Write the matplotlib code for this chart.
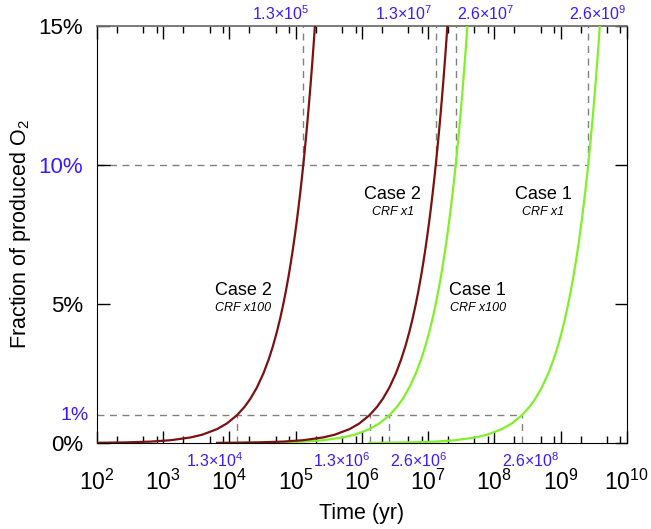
import matplotlib
matplotlib.use("Agg")
import matplotlib.pyplot as plt
from matplotlib.ticker import FixedLocator, NullFormatter

# Fraction of produced O2 (%) sampled along each curve
frac = [0.005, 0.01, 0.02, 0.05, 0.1, 0.2, 0.3, 0.5, 0.7, 1.0, 1.3, 1.6, 2.0, 2.5,
        3.0, 3.5, 4.0, 4.5, 5.0, 5.5, 6.0, 6.5, 7.0, 7.5, 8.0, 8.5, 9.0, 9.5, 10.0,
        10.5, 11.0, 11.5, 12.0, 12.5, 13.0, 13.5, 14.0, 14.5, 15.0, 15.5]
# Times (yr) at which each curve reaches those fractions
t_case2_x100 = [65, 130, 260, 650, 1.3e3, 2.6e3, 3.9e3, 6.5e3, 9.1e3, 1.3e4, 1.69e4, 2.08e4,
                2.6e4, 3.25e4, 3.9e4, 4.55e4, 5.2e4, 5.85e4, 6.5e4, 7.15e4, 7.8e4, 8.45e4,
                9.1e4, 9.75e4, 1.04e5, 1.105e5, 1.17e5, 1.235e5, 1.3e5, 1.365e5, 1.43e5,
                1.495e5, 1.56e5, 1.625e5, 1.69e5, 1.755e5, 1.82e5, 1.885e5, 1.95e5, 2.015e5]
t_case2_x1 = [6.5e3, 1.3e4, 2.6e4, 6.5e4, 1.3e5, 2.6e5, 3.9e5, 6.5e5, 9.1e5, 1.3e6, 1.69e6, 2.08e6,
              2.6e6, 3.25e6, 3.9e6, 4.55e6, 5.2e6, 5.85e6, 6.5e6, 7.15e6, 7.8e6, 8.45e6,
              9.1e6, 9.75e6, 1.04e7, 1.105e7, 1.17e7, 1.235e7, 1.3e7, 1.365e7, 1.43e7,
              1.495e7, 1.56e7, 1.625e7, 1.69e7, 1.755e7, 1.82e7, 1.885e7, 1.95e7, 2.015e7]
t_case1_x100 = [1.3e4, 2.6e4, 5.2e4, 1.3e5, 2.6e5, 5.2e5, 7.8e5, 1.3e6, 1.82e6, 2.6e6, 3.38e6, 4.16e6,
                5.2e6, 6.5e6, 7.8e6, 9.1e6, 1.04e7, 1.17e7, 1.3e7, 1.43e7, 1.56e7, 1.69e7,
                1.82e7, 1.95e7, 2.08e7, 2.21e7, 2.34e7, 2.47e7, 2.6e7, 2.73e7, 2.86e7,
                2.99e7, 3.12e7, 3.25e7, 3.38e7, 3.51e7, 3.64e7, 3.77e7, 3.9e7, 4.03e7]
t_case1_x1 = [1.3e6, 2.6e6, 5.2e6, 1.3e7, 2.6e7, 5.2e7, 7.8e7, 1.3e8, 1.82e8, 2.6e8, 3.38e8, 4.16e8,
              5.2e8, 6.5e8, 7.8e8, 9.1e8, 1.04e9, 1.17e9, 1.3e9, 1.43e9, 1.56e9, 1.69e9,
              1.82e9, 1.95e9, 2.08e9, 2.21e9, 2.34e9, 2.47e9, 2.6e9, 2.73e9, 2.86e9,
              2.99e9, 3.12e9, 3.25e9, 3.38e9, 3.51e9, 3.64e9, 3.77e9, 3.9e9, 4.03e9]

t_1pct = [1.3e4, 1.3e6, 2.6e6, 2.6e8]
lbl_1pct = ["1.3×10$^{4}$", "1.3×10$^{6}$", "2.6×10$^{6}$", "2.6×10$^{8}$"]
t_10pct = [1.3e5, 1.3e7, 2.6e7, 2.6e9]
lbl_10pct = ["1.3×10$^{5}$", "1.3×10$^{7}$", "2.6×10$^{7}$", "2.6×10$^{9}$"]

xtick_vals = [1e2, 1e3, 1e4, 1e5, 1e6, 1e7, 1e8, 1e9, 1e10]
xtick_lbls = ["10$^{2}$", "10$^{3}$", "10$^{4}$", "10$^{5}$", "10$^{6}$", "10$^{7}$",
              "10$^{8}$", "10$^{9}$", "10$^{10}$"]
ytick_vals = [0, 5, 10, 15]
ytick_lbls = ["0%", "5%", "10%", "15%"]

RED = "#7a1212"
GREEN = "#80f02a"
BLUE = "#3a1aff"
GRAY = "#808080"

plt.rcParams['font.family'] = ['Liberation Sans', 'DejaVu Sans']
plt.rcParams['mathtext.fontset'] = 'custom'
plt.rcParams['mathtext.rm'] = 'Liberation Sans'

fig = plt.figure(figsize=(6.51, 5.29), dpi=100)
ax = fig.add_axes([0.149, 0.1626, 0.814, 0.7883])
ax.set_xscale('log')
ax.set_xlim(1e2, 1e10)
ax.set_ylim(0, 15)

# dashed guide lines
ax.plot([1e2, 2.6e8], [1, 1], ls=(0, (5, 4)), color=GRAY, lw=1, zorder=1)
ax.plot([1e2, 2.6e9], [10, 10], ls=(0, (5, 4)), color=GRAY, lw=1, zorder=1)
for t in t_1pct:
    ax.plot([t, t], [0, 1], ls=(0, (5, 4)), color=GRAY, lw=1, zorder=1)
for t in t_10pct:
    ax.plot([t, t], [10, 15], ls=(0, (5, 4)), color=GRAY, lw=1, zorder=1)

ax.plot(t_case1_x1, frac, color=GREEN, lw=1.6, zorder=3)
ax.plot(t_case1_x100, frac, color=GREEN, lw=1.6, zorder=3)
ax.plot(t_case2_x1, frac, color=RED, lw=1.6, zorder=4)
ax.plot(t_case2_x100, frac, color=RED, lw=1.6, zorder=4)

# labels for crossing times (horizontal offsets in points relative to the line)
off_1pct = [-16, -20, 21, 6.5]
off_10pct = [-16, -23, 21.5, 7]
for t, s, o in zip(t_1pct, lbl_1pct, off_1pct):
    ax.annotate(s, (t, 0), xytext=(o, -6), textcoords='offset points',
                color=BLUE, fontsize=11.5, ha='center', va='top')
for t, s, o in zip(t_10pct, lbl_10pct, off_10pct):
    ax.annotate(s, (t, 15), xytext=(o, 2), textcoords='offset points',
                color=BLUE, fontsize=11.5, ha='center', va='bottom')

# case annotations
ax.text(1.6e4, 5.5, "Case 2", fontsize=13, ha='center', va='center')
ax.text(1.6e4, 4.85, "CRF x100", fontsize=9, style='italic', ha='center', va='center')
ax.text(2.9e6, 8.95, "Case 2", fontsize=13, ha='center', va='center')
ax.text(2.9e6, 8.3, "CRF x1", fontsize=9, style='italic', ha='center', va='center')
ax.text(5.6e7, 5.5, "Case 1", fontsize=13, ha='center', va='center')
ax.text(5.6e7, 4.85, "CRF x100", fontsize=9, style='italic', ha='center', va='center')
ax.text(5.4e8, 8.95, "Case 1", fontsize=13, ha='center', va='center')
ax.text(5.4e8, 8.3, "CRF x1", fontsize=9, style='italic', ha='center', va='center')

# ticks
ax.xaxis.set_major_locator(FixedLocator(xtick_vals))
ax.set_xticklabels(xtick_lbls, fontsize=16.5)
minors = [m * d for d in xtick_vals[:-1] for m in (2, 5, 8)]
ax.xaxis.set_minor_locator(FixedLocator(minors))
ax.xaxis.set_minor_formatter(NullFormatter())
ax.set_yticks(ytick_vals)
ax.set_yticklabels(ytick_lbls, fontsize=16)
ax.get_yticklabels()[2].set_color(BLUE)
ax.tick_params(axis='x', which='major', direction='in', length=9, width=1, top=True, pad=19)
ax.tick_params(axis='x', which='minor', direction='in', length=5, width=1, top=True)
ax.tick_params(axis='y', which='major', direction='in', length=9, width=1, right=True, pad=10)
ax.text(-0.016, 1, "1%", color=BLUE, fontsize=14, ha='right', va='center',
        transform=ax.get_yaxis_transform())

ax.spines['top'].set_color('#707070')
ax.spines['top'].set_linewidth(1.3)

ax.set_xlabel("Time (yr)", fontsize=15.5, labelpad=6)
ax.set_ylabel("Fraction of produced O$_2$", fontsize=15.5, labelpad=4)

fig.savefig("out.png", dpi=100)
